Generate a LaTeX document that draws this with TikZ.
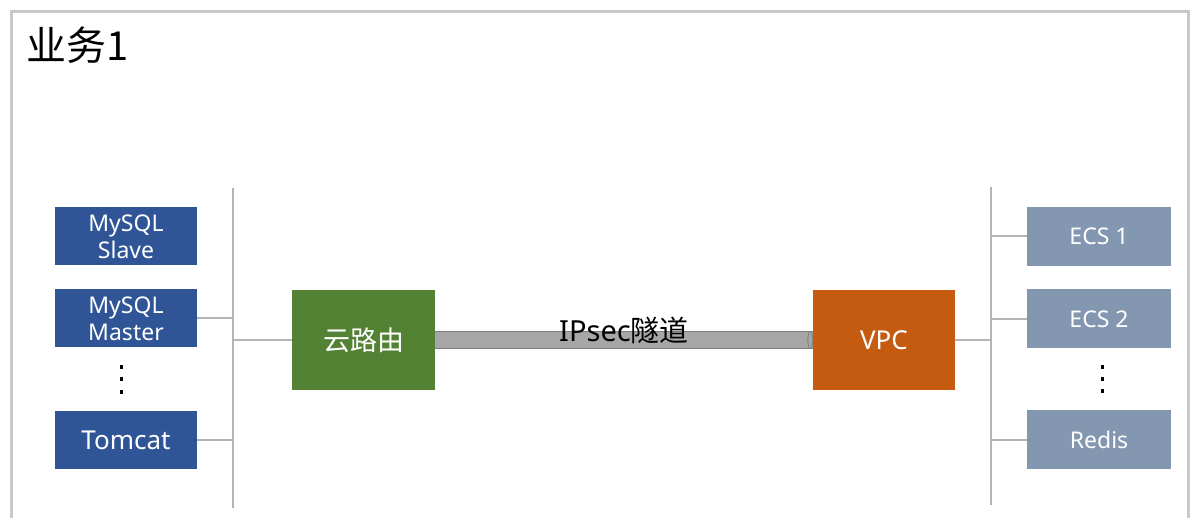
\documentclass[tikz,border=0pt]{standalone}
\usepackage{fontspec}
\setmainfont{Noto Sans}
\newfontfamily\cjk{Noto Sans CJK SC}
\newfontfamily\cjklight{Noto Sans CJK SC Light}
\usetikzlibrary{calc}

\definecolor{frameg}{HTML}{C8C8C8}
\definecolor{lineg}{HTML}{B4B4B4}
\definecolor{hostblue}{HTML}{2F5597}
\definecolor{ecsblue}{HTML}{8497B0}
\definecolor{routegreen}{HTML}{548235}
\definecolor{vpcorange}{HTML}{C55A11}
\definecolor{tubefill}{HTML}{A6A6A6}
\definecolor{tubeedge}{HTML}{7F7F7F}

\tikzset{
  hostbox/.style={fill=hostblue, text=white, inner sep=0pt, minimum width=142pt, minimum height=58pt, align=center, font=\fontsize{23}{27}\selectfont},
  ecsbox/.style={fill=ecsblue, text=white, inner sep=0pt, minimum width=144pt, minimum height=59pt, font=\fontsize{23}{27}\selectfont},
  gatebox/.style={text=white, inner sep=0pt, minimum width=143pt, minimum height=100pt, font=\fontsize{26}{30}\selectfont},
  bus/.style={draw=lineg, line width=2pt},
}

\begin{document}
\begin{tikzpicture}[x=1pt,y=-1pt]
\useasboundingbox (0,0) rectangle (1191,518);

\draw[frameg, line width=3pt] (11.5,518) -- (11.5,12) -- (1188,12) -- (1188,518);
\node[anchor=west, inner sep=0pt, font=\fontsize{40}{44}\selectfont\cjk] (title) at (26,45) {业务1};

\node[hostbox] (slave) at (126,236.5) {MySQL\\Slave};
\node[hostbox] (master) at (126,318.5) {MySQL\\Master};
\node[hostbox, font=\fontsize{26}{30}\selectfont] (tomcat) at (126,440) {Tomcat};
\foreach \yy in {367,379,392}
  \fill (119.5,\yy-1.8) rectangle (123,\yy+1.8);

\coordinate (lbusT) at (233,188);
\coordinate (lbusB) at (233,508);
\draw[bus] (lbusT) -- (lbusB);
\draw[bus] (master.east) -- (master.east -| lbusT);
\draw[bus] (tomcat.east) -- (tomcat.east -| lbusT);

\node[gatebox, fill=routegreen, font=\fontsize{27}{30}\selectfont\cjk] (router) at (363.5,340) {云路由};
\draw[bus] (router.west) -- (router.west -| lbusT);

\node[gatebox, fill=vpcorange, minimum width=142pt] (vpc) at (884,340) {VPC};

\draw[draw=tubeedge, line width=1pt, double=tubefill, double distance=16pt] (router.east) -- (vpc.west)
  node[midway, yshift=10pt, text=black, font=\fontsize{29}{32}\selectfont] (tunnel) {IPsec{\cjk 隧道}};
\draw[tubeedge, fill=tubefill, line width=0.8pt] ($(vpc.west)+(-2.5,0)$) ellipse (2.5pt and 8.5pt);

\coordinate (rbusT) at (991,187);
\coordinate (rbusB) at (991,505);
\draw[bus] (rbusT) -- (rbusB);
\draw[bus] (vpc.east) -- (vpc.east -| rbusT);

\node[ecsbox] (ecsa) at (1099,236.5) {ECS 1};
\node[ecsbox] (ecsb) at (1099,319) {ECS 2};
\node[ecsbox] (redis) at (1099,439.5) {Redis};
\foreach \yy in {367,379,391}
  \fill (1100.5,\yy-1.8) rectangle (1104,\yy+1.8);
\draw[bus] (ecsa.west) -- (ecsa.west -| rbusT);
\draw[bus] (ecsb.west) -- (ecsb.west -| rbusT);
\draw[bus] (redis.west) -- (redis.west -| rbusT);

\end{tikzpicture}
\end{document}
